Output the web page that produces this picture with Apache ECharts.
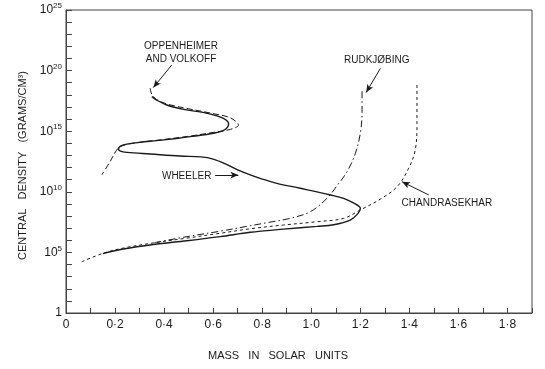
<!DOCTYPE html>
<html>
<head>
<meta charset="utf-8">
<script src="https://cdn.jsdelivr.net/npm/echarts@6/dist/echarts.min.js"></script>
<style>
  html, body { margin: 0; padding: 0; background: #fff; }
  #chart { width: 545px; height: 369px; }
</style>
</head>
<body>
<div id="chart"></div>
<script>
// mass (solar units) vs log10 of central density (g/cm^3)
const wheeler = [
  [0.15, 4.9], [0.234, 5.28], [0.356, 5.65], [0.493, 5.96], [0.629, 6.3],
  [0.751, 6.66], [0.887, 6.92], [1.023, 7.15], [1.091, 7.28], [1.159, 7.67],
  [1.19, 8.2], [1.2, 8.64], [1.17, 9.1], [1.132, 9.46], [1.078, 9.74],
  [0.955, 10.29], [0.86, 10.7], [0.8, 11.05], [0.751, 11.39], [0.7, 11.8],
  [0.65, 12.3], [0.6, 12.7], [0.55, 12.88], [0.465, 12.95], [0.343, 13.12],
  [0.25, 13.25], [0.222, 13.35], [0.214, 13.53], [0.234, 13.86], [0.3, 14.08],
  [0.37, 14.22], [0.45, 14.4], [0.506, 14.55], [0.601, 14.83], [0.645, 15.1],
  [0.663, 15.6], [0.642, 16.06], [0.574, 16.48], [0.479, 16.8], [0.411, 17.16],
  [0.37, 17.57], [0.35, 17.85]
];
const oppenheimerVolkoff = [
  [0.343, 18.55], [0.35, 18.05], [0.37, 17.6], [0.42, 17.2], [0.5, 16.85],
  [0.6, 16.45], [0.67, 16.1], [0.703, 15.5], [0.67, 15.15], [0.6, 14.9],
  [0.506, 14.6], [0.37, 14.25], [0.27, 14.0], [0.222, 13.75], [0.205, 13.4],
  [0.18, 12.5], [0.146, 11.4]
];
const chandrasekhar = [
  [0.064, 4.23], [0.152, 4.93], [0.234, 5.36], [0.356, 5.78], [0.493, 6.18],
  [0.629, 6.58], [0.751, 6.95], [0.887, 7.26], [1.023, 7.53], [1.132, 7.81],
  [1.2, 8.5], [1.282, 9.4], [1.35, 10.42], [1.397, 11.94], [1.424, 13.45],
  [1.431, 15.65], [1.431, 18.95]
];
const rudkjobing = [
  [0.36, 5.8], [0.493, 6.3], [0.629, 6.75], [0.751, 7.2], [0.819, 7.45],
  [0.914, 7.81], [0.996, 8.36], [1.064, 9.46], [1.105, 10.5], [1.146, 11.66],
  [1.18, 13.18], [1.2, 14.83], [1.207, 16.48], [1.207, 18.4]
];

const xTickValues = [0, 0.2, 0.4, 0.6, 0.8, 1.0, 1.2, 1.4, 1.6, 1.8];
const xTickLabels = ['0', '0·2', '0·4', '0·6', '0·8', '1·0', '1·2', '1·4', '1·6', '1·8'];
const yTickExponents = [0, 5, 10, 15, 20, 25];

// annotations: label position and arrow [from, to], in data coords
const labelOV = { text: 'OPPENHEIMER\nAND VOLKOFF', at: [0.469, 21.45], arrow: [[0.431, 20.46], [0.356, 18.6]] };
const labelWheeler = { text: 'WHEELER', at: [0.492, 11.3], arrow: [[0.608, 11.38], [0.703, 11.38]] };
const labelRud = { text: 'RUDKJØBING', at: [1.267, 20.87], arrow: [[1.282, 20.19], [1.224, 18.2]] };
const labelChandra = { text: 'CHANDRASEKHAR', at: [1.553, 9.08], arrow: [[1.479, 9.74], [1.37, 10.83]] };

const ink = '#1a1a1a';
const font = 'Liberation Sans, Arial, sans-serif';

function annotate(a) {
  return {
    markPoint: {
      symbol: 'circle',
      symbolSize: 1,
      itemStyle: { color: 'rgba(0,0,0,0)' },
      label: {
        show: true,
        position: 'inside',
        formatter: a.text,
        color: ink,
        fontFamily: font,
        fontSize: 10,
        lineHeight: 13,
        align: 'center',
      },
      data: [{ coord: a.at }],
    },
    markLine: {
      silent: true,
      symbol: ['none', 'arrow'],
      symbolSize: [5, 8],
      label: { show: false },
      lineStyle: { color: ink, width: 1, type: 'solid' },
      data: [[{ coord: a.arrow[0] }, { coord: a.arrow[1] }]],
    },
  };
}

function curve(name, data, type, width, ann) {
  return Object.assign({
    name,
    type: 'line',
    data,
    smooth: 0.35,
    showSymbol: false,
    lineStyle: { color: ink, width, type },
  }, ann ? annotate(ann) : {});
}

const chart = echarts.init(document.getElementById('chart'), null, { renderer: 'canvas' });

chart.setOption({
  animation: false,
  backgroundColor: '#ffffff',
  grid: {
    left: 66, right: 13, top: 10, bottom: 56,
    show: true, borderColor: '#444', borderWidth: 1,
  },
  xAxis: {
    type: 'value',
    min: 0, max: 1.9, interval: 0.1,
    name: 'MASS   IN   SOLAR   UNITS',
    nameLocation: 'middle',
    nameGap: 37,
    nameTextStyle: { color: ink, fontFamily: font, fontSize: 11, padding: [0, 42, 0, 0] },
    axisLine: { lineStyle: { color: '#444', width: 1 } },
    axisTick: { inside: true, length: 5, lineStyle: { color: '#444' } },
    splitLine: { show: false },
    axisLabel: {
      color: ink, fontFamily: font, fontSize: 12, margin: 6,
      formatter: v => {
        const i = xTickValues.findIndex(t => Math.abs(t - v) < 1e-6);
        return i < 0 ? '' : xTickLabels[i];
      },
    },
  },
  yAxis: {
    type: 'value',
    min: 0, max: 25, interval: 1,
    name: 'CENTRAL   DENSITY   (GRAMS/CM³)',
    nameLocation: 'middle',
    nameGap: 26,
    nameTextStyle: { color: ink, fontFamily: font, fontSize: 11, padding: [0, 8, 0, 0] },
    axisLine: { show: true, lineStyle: { color: '#444', width: 1 } },
    axisTick: { show: true, inside: true, length: 6, lineStyle: { color: '#444' } },
    splitLine: { show: false },
    axisLabel: {
      color: ink, fontFamily: font, fontSize: 12, margin: 4,
      formatter: v => {
        if (!yTickExponents.includes(v)) return '';
        return v === 0 ? '1' : '10{s|' + v + '}';
      },
      rich: {
        s: { fontSize: 8, fontFamily: font, color: ink, verticalAlign: 'top', padding: [0, 0, 8, 0] },
      },
    },
  },
  series: [
    curve('Wheeler', wheeler, 'solid', 1.4, labelWheeler),
    curve('Oppenheimer and Volkoff', oppenheimerVolkoff, [6, 3], 1, labelOV),
    curve('Chandrasekhar', chandrasekhar, [3, 3], 1, labelChandra),
    curve('Rudkjøbing', rudkjobing, [7, 3, 1.5, 3], 1, labelRud),
  ],
});
</script>
</body>
</html>
